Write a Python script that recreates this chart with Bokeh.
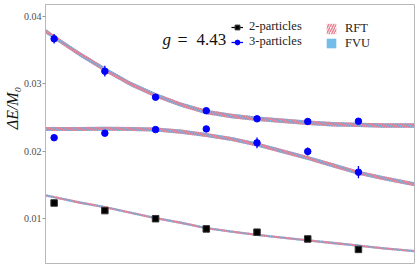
import numpy as np
from bokeh.plotting import figure
from bokeh.models import ColumnDataSource, Range1d, FixedTicker, Label, Legend, LegendItem
from bokeh.embed import file_html
from bokeh.resources import INLINE

# ---- data ----
n_vals = [1, 2, 3, 4, 5, 6, 7]
two_part = [0.01233, 0.0112, 0.0100, 0.00849, 0.00800, 0.00700, 0.00545]
two_err = [0.0001, 0.0001, 0.0001, 0.0001, 0.0001, 0.0001, 0.0001]
three_a = [0.03665, 0.03185, 0.0280, 0.0260, 0.0248, 0.0244, 0.02444]
three_a_err = [0.0007, 0.0008, 0.0004, 0.0002, 0.0002, 0.0002, 0.0002]
three_b = [0.0220, 0.02267, 0.0232, 0.0233, 0.02124, 0.01996, 0.01689]
three_b_err = [0.0002, 0.0002, 0.0002, 0.0003, 0.0008, 0.0006, 0.0009]

curve_x = [0.83, 1.0, 1.5, 2.0, 2.5, 3.0, 3.5, 4.0, 4.5, 5.0, 5.5, 6.0, 6.5, 7.0, 7.5, 8.105]
curve_top = [0.0378, 0.0369, 0.0344, 0.0321, 0.0300, 0.0283, 0.0269, 0.0258, 0.0252, 0.0248,
             0.0245, 0.0242, 0.0240, 0.0239, 0.0238, 0.0238]
curve_mid = [0.0233, 0.0233, 0.0233, 0.02332, 0.0233, 0.0232, 0.0229, 0.0224, 0.0218, 0.0210,
             0.0200, 0.0190, 0.0179, 0.0168, 0.0160, 0.0151]
curve_low = [0.01345, 0.0132, 0.0124, 0.0117, 0.0109, 0.0101, 0.0094, 0.0086, 0.0081, 0.0076,
             0.0072, 0.0068, 0.0064, 0.0060, 0.0056, 0.0052]
curve_halfwidth = [0.00033, 0.0003, 0.00017]

y_ticks = [0.01, 0.02, 0.03, 0.04]
y_tick_labels = ["0.01", "0.02", "0.03", "0.04"]
y_label = "\u00a0" * 13 + "ΔE/M₀"

FVU_COLOR = "#74bde9"
RFT_COLOR = "#e8788c"
SERIF = "Liberation Serif"

p = figure(width=419, height=264, x_range=Range1d(0.83, 8.105), y_range=Range1d(0.003363, 0.041733),
           output_backend="svg", toolbar_location=None, x_axis_location=None,
           min_border_left=41, min_border_right=5, min_border_top=4, min_border_bottom=1)
p.grid.visible = False
p.outline_line_color = "#b8b8b8"
p.outline_line_width = 1
p.background_fill_color = "white"
p.border_fill_color = "white"

ax = p.yaxis[0]
ax.ticker = FixedTicker(ticks=y_ticks)
ax.major_label_overrides = {t: l for t, l in zip(y_ticks, y_tick_labels)}
ax.axis_line_color = "#b8b8b8"
ax.major_tick_out = 3
ax.major_tick_in = 0
ax.minor_tick_out = 0
ax.minor_tick_in = 0
ax.major_tick_line_color = "#999999"
ax.major_label_standoff = 1
ax.major_label_text_font = SERIF
ax.major_label_text_font_size = "10px"
ax.major_label_text_color = "#4d4d4d"
ax.axis_label = y_label
ax.axis_label_text_font = SERIF
ax.axis_label_text_font_style = "italic"
ax.axis_label_text_font_size = "16px"
ax.axis_label_standoff = 0
ax.axis_label_text_color = "#111111"

fvu_renderers = []
rft_renderers = []
for cy, hw in zip([curve_top, curve_mid, curve_low], curve_halfwidth):
    cy = np.array(cy)
    src = ColumnDataSource(dict(x=curve_x, lo=cy - hw, hi=cy + hw))
    fvu_renderers.append(p.varea(x="x", y1="lo", y2="hi", source=src, fill_color=FVU_COLOR, fill_alpha=1.0))
for cy, hw in zip([curve_top, curve_mid, curve_low], curve_halfwidth):
    cy = np.array(cy)
    src = ColumnDataSource(dict(x=curve_x, lo=cy - hw, hi=cy + hw))
    rft_renderers.append(p.varea(x="x", y1="lo", y2="hi", source=src, fill_alpha=0.0,
                                 hatch_pattern="/", hatch_color=RFT_COLOR, hatch_weight=1.6,
                                 hatch_scale=5, hatch_alpha=0.9))

# 2-particles
two = np.array(two_part); terr = np.array(two_err)
s2 = ColumnDataSource(dict(x=n_vals, y=two, lo=two - terr, hi=two + terr))
seg2 = p.segment(x0="x", y0="lo", x1="x", y1="hi", source=s2, line_color="black", line_width=1.2)
sq2 = p.scatter(x="x", y="y", source=s2, marker="square", size=6.5, fill_color="black", line_color="#333333")

# 3-particles
seg3 = None
circ3 = None
for yy, ee in [(three_a, three_a_err), (three_b, three_b_err)]:
    yy = np.array(yy); ee = np.array(ee)
    s3 = ColumnDataSource(dict(x=n_vals, y=yy, lo=yy - ee, hi=yy + ee))
    sg = p.segment(x0="x", y0="lo", x1="x", y1="hi", source=s3, line_color="blue", line_width=1.3)
    cc = p.scatter(x="x", y="y", source=s3, marker="circle", size=6.5, fill_color="blue", line_color="blue")
    if seg3 is None:
        seg3, circ3 = sg, cc


def one_item_legend(label, renderers, loc, gh, standoff):
    return Legend(items=[LegendItem(label=label, renderers=renderers)],
                  location=loc, glyph_width=12, glyph_height=gh, spacing=0, padding=0, margin=0,
                  label_standoff=standoff, label_height=12, label_text_font=SERIF,
                  label_text_font_size="12.5px", label_text_color="#222222",
                  border_line_alpha=0, background_fill_alpha=0)


p.add_layout(one_item_legend("2-particles", [seg2, sq2], (186, 228.5), 16, 6))
p.add_layout(one_item_legend("3-particles", [seg3, circ3], (186, 213.5), 16, 6))
p.add_layout(one_item_legend("RFT", [rft_renderers[0]], (280, 227), 13, 8))
p.add_layout(one_item_legend("FVU", [fvu_renderers[0]], (280, 212.5), 12, 8))

common = dict(x_units="screen", y_units="screen", text_font=SERIF, text_baseline="alphabetic",
              text_align="left", text_color="#111111")
p.add_layout(Label(x=117, y=223.7, text="g", text_font_size="17px", text_font_style="italic", **common))
p.add_layout(Label(x=132, y=223.7, text="=", text_font_size="18px", **common))
p.add_layout(Label(x=151, y=223.7, text="4.43", text_font_size="17px", **common))

open("out.html", "w").write(file_html(p, INLINE))
